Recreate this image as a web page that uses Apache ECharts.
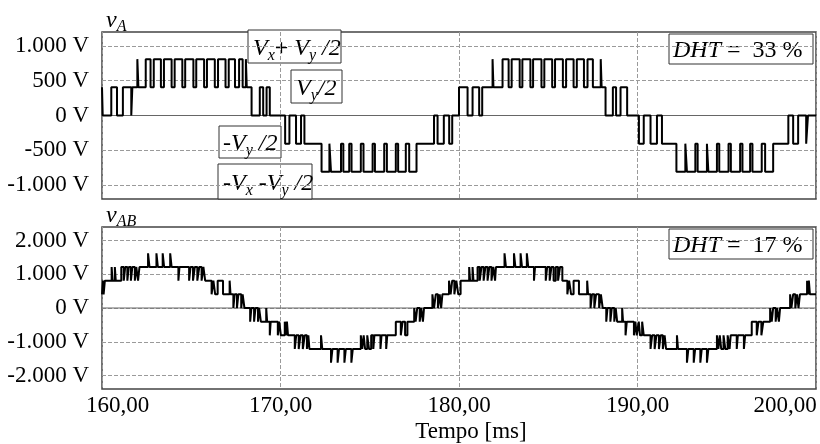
<!DOCTYPE html>
<html>
<head>
<meta charset="utf-8">
<script src="https://cdn.jsdelivr.net/npm/echarts@6/dist/echarts.min.js"></script>
<style>
  html, body { margin: 0; padding: 0; background: #fff; }
  #chart { width: 820px; height: 444px; }
</style>
</head>
<body>
<div id="chart"></div>
<script>
// Axis ticks
const timeTicks = [160, 170, 180, 190, 200];
const vaTicks = [-1000, -500, 0, 500, 1000];
const vabTicks = [-2000, -1000, 0, 1000, 2000];

// Phase voltage v_A: [switching instant (ms), level (V) held until the next instant]
const vaSteps = [
  [160.00, 405], [160.04, 0], [160.52, 405], [160.84, 0], [161.17, 405], [161.64, 0], [161.70, 405],
  [161.98, 810], [162.04, 405], [162.45, 810], [162.72, 405], [162.90, 810], [163.30, 405],
  [163.47, 810], [163.90, 405], [164.07, 810], [164.50, 405], [164.66, 810], [165.12, 405],
  [165.28, 810], [165.72, 405], [165.88, 810], [166.32, 405], [166.50, 810], [166.92, 405],
  [167.10, 810], [167.45, 405], [167.68, 810], [167.88, 405], [168.06, 810], [168.11, 405],
  [168.38, 0], [168.84, 405], [169.03, 0], [169.22, 405], [169.40, 0],
  [170.26, -405], [170.50, 0], [170.87, -405], [171.15, 0], [171.34, -405],
  [172.30, -810], [172.74, -405], [172.83, -810], [173.39, -405], [173.52, -810], [173.85, -405],
  [173.98, -810], [174.50, -405], [174.65, -810], [175.16, -405], [175.29, -810], [175.81, -405],
  [175.96, -810], [176.46, -405], [176.59, -810], [177.02, -405], [177.21, -810], [177.62, -405],
  [178.60, 0], [178.80, -405], [179.15, 0], [179.45, -405], [179.62, 0],
  [180.00, 405], [180.48, 0], [180.76, 405], [181.13, 0], [181.30, 405],
  [181.88, 810], [181.93, 405], [182.44, 810], [182.78, 405], [182.95, 810], [183.40, 405],
  [183.55, 810], [184.00, 405], [184.15, 810], [184.62, 405], [184.78, 810], [185.22, 405],
  [185.38, 810], [185.82, 405], [186.00, 810], [186.42, 405], [186.60, 810], [187.00, 405],
  [187.20, 810], [187.50, 405], [187.94, 810], [187.99, 405],
  [188.21, 0], [188.62, 405], [188.80, 0], [189.05, 405], [189.42, 0],
  [190.08, -405], [190.35, 0], [190.73, -405], [191.09, 0], [191.37, -405],
  [192.18, -810], [192.68, -405], [192.77, -810], [193.24, -405], [193.37, -810], [193.89, -405],
  [193.97, -810], [194.45, -405], [194.58, -810], [195.10, -405], [195.23, -810], [195.75, -405],
  [195.88, -810], [196.31, -405], [196.44, -810], [196.96, -405], [197.15, -810], [197.60, -405],
  [198.45, 0], [198.72, -405], [199.00, 0], [199.45, -405], [199.55, 0], [200.00, 0]
];

// Line voltage v_AB: [switching instant (ms), level (V)]
const vabSteps = [
  [160.00, 405], [160.06, 810], [160.09, 405], [160.16, 810],
  [160.54, 1215], [160.59, 810], [160.72, 1215], [160.77, 810],
  [161.08, 1215], [161.22, 810], [161.30, 1215], [161.42, 810], [161.50, 1215], [161.62, 810],
  [161.70, 1215], [161.84, 810], [161.92, 1215], [162.02, 810], [162.10, 1215],
  [162.58, 1620], [162.66, 1215], [163.05, 1620], [163.13, 1215], [163.40, 1620], [163.48, 1215],
  [163.82, 1620], [163.90, 1215],
  [164.28, 810], [164.34, 1215],
  [164.88, 810], [164.96, 1215], [165.10, 810], [165.20, 1215], [165.34, 810], [165.45, 1215],
  [165.58, 810], [165.68, 1215], [165.78, 810],
  [166.14, 405], [166.24, 810], [166.34, 405], [166.48, 810],
  [166.78, 405], [167.15, 810], [167.20, 405],
  [167.36, 0], [167.43, 405], [167.56, 0], [167.64, 405], [167.80, 0], [167.88, 405], [167.98, 0],
  [168.30, -405], [168.37, 0], [168.52, -405], [168.60, 0], [168.74, -405], [168.80, 0], [168.90, -405],
  [169.20, 0], [169.25, -405],
  [169.40, -810], [169.45, -405],
  [169.85, -810], [169.93, -405], [170.02, -810], [170.24, -405], [170.30, -810], [170.36, -405], [170.42, -810],
  [170.80, -1215], [170.88, -810], [171.02, -1215], [171.12, -810], [171.25, -1215], [171.36, -810],
  [171.48, -1215], [171.56, -810], [171.62, -1215],
  [172.27, -810], [172.34, -1215],
  [172.83, -1620], [172.91, -1215], [173.20, -1620], [173.28, -1215], [173.58, -1620], [173.66, -1215],
  [173.97, -1620], [174.05, -1215],
  [174.50, -810], [174.58, -1215], [174.66, -810], [174.74, -1215], [174.86, -810], [174.96, -1215],
  [175.08, -810], [175.20, -1215], [175.26, -810], [175.60, -1215], [175.66, -810], [175.92, -1215], [175.98, -810],
  [176.46, -405], [176.74, -810], [176.84, -405], [176.98, -810], [177.11, -405],
  [177.49, 0], [177.57, -405], [177.66, 0], [177.80, -405], [177.88, 0], [177.98, -405], [178.04, 0],
  [178.51, 405], [178.60, 0], [178.70, 405], [178.82, 0], [178.92, 405], [179.00, 0], [179.07, 405],
  [179.44, 810], [179.53, 405], [179.62, 810], [179.74, 405], [179.85, 810], [179.96, 405], [180.09, 810],
  [180.57, 1215], [180.62, 810], [180.76, 1215], [180.81, 810],
  [181.04, 1215], [181.16, 810], [181.26, 1215], [181.38, 810], [181.48, 1215], [181.60, 810],
  [181.70, 1215], [181.82, 810], [181.92, 1215], [182.02, 810], [182.07, 1215],
  [182.55, 1620], [182.63, 1215], [183.08, 1620], [183.16, 1215], [183.45, 1620], [183.53, 1215],
  [183.80, 1620], [183.88, 1215],
  [184.20, 810], [184.26, 1215],
  [184.86, 810], [184.94, 1215], [185.08, 810], [185.18, 1215], [185.30, 810], [185.42, 1215],
  [185.55, 810], [185.66, 1215], [185.79, 810],
  [186.07, 405], [186.17, 810], [186.28, 405], [186.42, 810],
  [186.72, 405], [187.18, 810], [187.23, 405],
  [187.37, 0], [187.45, 405], [187.58, 0], [187.68, 405], [187.85, 0], [187.95, 405], [188.05, 0],
  [188.25, -405], [188.32, 0], [188.48, -405], [188.56, 0], [188.70, -405], [188.78, 0], [188.86, -405],
  [189.14, 0], [189.19, -405],
  [189.33, -810], [189.40, -405], [189.80, -810], [189.88, -405], [189.96, -810],
  [190.07, -405], [190.14, -810], [190.26, -405], [190.35, -810],
  [190.73, -1215], [190.82, -810], [190.96, -1215], [191.06, -810], [191.20, -1215], [191.30, -810],
  [191.42, -1215], [191.52, -810], [191.60, -1215],
  [192.21, -810], [192.27, -1215],
  [192.77, -1620], [192.85, -1215], [193.15, -1620], [193.23, -1215], [193.52, -1620], [193.60, -1215],
  [193.89, -1620], [193.97, -1215],
  [194.45, -810], [194.53, -1215], [194.61, -810], [194.69, -1215], [194.82, -810], [194.92, -1215],
  [195.05, -810], [195.16, -1215], [195.22, -810], [195.56, -1215], [195.62, -810], [195.96, -1215], [196.03, -810],
  [196.40, -405], [196.68, -810], [196.78, -405], [196.94, -810], [197.05, -405],
  [197.43, 0], [197.52, -405], [197.60, 0], [197.74, -405], [197.82, 0], [197.92, -405], [197.99, 0],
  [198.55, 405], [198.62, 0], [198.72, 405], [198.84, 0], [198.94, 405], [199.02, 0], [199.10, 405],
  [199.50, 810], [199.55, 405], [199.60, 810], [199.66, 405], [200.00, 405]
];

const SERIF = 'Liberation Serif';

function voltLabel(v) {
  const a = Math.abs(v);
  const s = a >= 1000 ? Math.floor(a / 1000) + '.' + String(a % 1000).padStart(3, '0') : String(a);
  return (v < 0 ? '-' : '') + s + ' V';
}

function timeLabel(v) {
  const s = v.toFixed(2).replace('.', ',');
  if (v === timeTicks[0]) return '{first|' + s + '}';
  if (v === timeTicks[timeTicks.length - 1]) return '{last|' + s + '}';
  return s;
}

const gridLine = { show: true, lineStyle: { color: '#9a9a9a', width: 1, type: [4, 2] } };

function yAxisFor(idx, limit, ticks, sub) {
  return {
    gridIndex: idx, type: 'value', min: -limit, max: limit,
    axisLine: { show: false },
    axisTick: { show: false, customValues: ticks },
    axisLabel: {
      customValues: ticks, formatter: voltLabel, margin: 13,
      color: '#000', fontFamily: SERIF, fontSize: 23
    },
    splitLine: gridLine,
    name: '{v|v}{s|' + sub + '}',
    nameLocation: 'end', nameGap: 3,
    nameTextStyle: {
      align: 'left', verticalAlign: 'bottom', padding: [0, 0, 0, 4],
      rich: {
        v: { fontFamily: SERIF, fontStyle: 'italic', fontSize: 24, color: '#000', verticalAlign: 'top', lineHeight: 20 },
        s: { fontFamily: SERIF, fontStyle: 'italic', fontSize: 16, color: '#000', verticalAlign: 'top', lineHeight: 16, padding: [10, 0, 0, 0] }
      }
    }
  };
}

function xAxisFor(idx, withLabels) {
  const ax = {
    gridIndex: idx, type: 'value', min: timeTicks[0], max: timeTicks[timeTicks.length - 1], interval: 10,
    axisLine: { show: false }, axisTick: { show: false },
    axisLabel: { show: false },
    splitLine: gridLine
  };
  if (withLabels) {
    ax.axisLabel = {
      show: true, formatter: timeLabel, margin: 5, color: '#000', fontFamily: SERIF, fontSize: 23,
      rich: {
        first: { fontFamily: SERIF, fontSize: 23, color: '#000', padding: [0, 0, 0, 31] },
        last: { fontFamily: SERIF, fontSize: 23, color: '#000', padding: [0, 62, 0, 0] }
      }
    };
    ax.name = 'Tempo [ms]';
    ax.nameLocation = 'middle';
    ax.nameGap = 31;
    ax.nameTextStyle = { color: '#000', fontFamily: SERIF, fontSize: 23, padding: [0, 0, 0, 24] };
  }
  return ax;
}

function zeroLine(idx) {
  return {
    type: 'line', xAxisIndex: idx, yAxisIndex: idx, silent: true, symbol: 'none', z: 1,
    data: [[timeTicks[0], 0], [timeTicks[timeTicks.length - 1], 0]],
    lineStyle: { color: '#666', width: 1 }
  };
}

function waveform(idx, steps) {
  return {
    type: 'line', xAxisIndex: idx, yAxisIndex: idx, step: 'end', symbol: 'none', z: 3,
    data: steps, lineStyle: { color: '#000', width: 2 }
  };
}

// Annotation boxes
const richFill = {
  i: { fontFamily: SERIF, fontStyle: 'italic', fontSize: 24, fill: '#000', verticalAlign: 'top', lineHeight: 22 },
  r: { fontFamily: SERIF, fontSize: 24, fill: '#000', verticalAlign: 'top', lineHeight: 22 },
  s: { fontFamily: SERIF, fontStyle: 'italic', fontSize: 16, fill: '#000', verticalAlign: 'top', lineHeight: 16, padding: [11, 0, 0, 0] }
};

function labelBox(x, y, w, h, text, pad) {
  return {
    type: 'group', z: 20,
    children: [
      { type: 'rect', shape: { x: x, y: y, width: w, height: h }, style: { fill: '#fff', stroke: '#333', lineWidth: 1 } },
      { type: 'text', x: x + (pad || 5), y: y + h / 2 + 1, style: { text: text, rich: richFill, align: 'left', verticalAlign: 'middle' } }
    ]
  };
}

const chart = echarts.init(document.getElementById('chart'), null, { renderer: 'canvas' });
chart.setOption({
  animation: false,
  backgroundColor: '#fff',
  textStyle: { fontFamily: SERIF },
  grid: [
    { left: 102, top: 32, width: 714, height: 167, show: true, borderColor: '#444', borderWidth: 1.5 },
    { left: 102, top: 227, width: 714, height: 163, show: true, borderColor: '#444', borderWidth: 1.5 }
  ],
  xAxis: [xAxisFor(0, false), xAxisFor(1, true)],
  yAxis: [yAxisFor(0, 1200, vaTicks, 'A'), yAxisFor(1, 2400, vabTicks, 'AB')],
  series: [zeroLine(0), zeroLine(1), waveform(0, vaSteps), waveform(1, vabSteps)],
  graphic: [
    labelBox(248, 30, 93, 33, '{i|V}{s|x}{r|+ }{i|V}{s|y}{i| /2}', 5),
    labelBox(291, 70, 51, 33, '{i|V}{s|y}{i|/2}', 5),
    labelBox(219, 126, 62, 32, '{i|-V}{s|y}{i| /2}', 4),
    labelBox(218, 164, 94, 35, '{i|-V}{s|x}{i| -V}{s|y}{i| /2}', 5),
    labelBox(669, 34, 144, 30, '{i|DHT}{r| =  33 %}', 4),
    labelBox(669, 229, 144, 30, '{i|DHT}{r| =  17 %}', 4)
  ]
});
</script>
</body>
</html>
